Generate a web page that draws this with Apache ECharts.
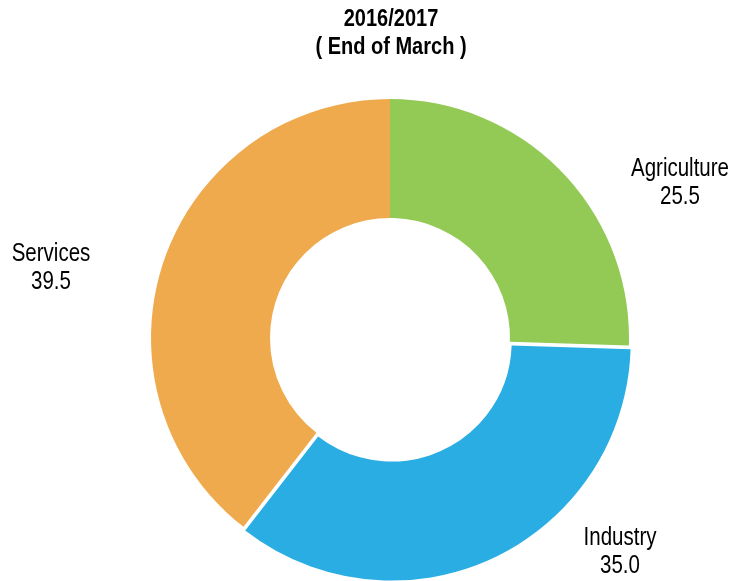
<!DOCTYPE html>
<html>
<head>
<meta charset="utf-8">
<script src="https://cdn.jsdelivr.net/npm/echarts@6/dist/echarts.min.js"></script>
<style>
  html, body { margin: 0; padding: 0; background: #fff; }
  #chart { width: 734px; height: 581px; }
</style>
</head>
<body>
<div id="chart"></div>
<script>
  const sectors = ['Agriculture', 'Industry', 'Services']
  const shares = [25.5, 35.0, 39.5]
  const colors = ['#93c955', '#2aade3', '#f0aa4e']
  const titleLines = ['2016/2017', '( End of March )']

  const font = '"Liberation Sans", Arial, sans-serif'
  // the original uses a narrow face; squeeze a regular one instead
  const narrow = 0.82

  // centre of each label block
  const labelSpots = [
    [680, 183],
    [620, 552],
    [51, 268]
  ]

  const labelGraphics = sectors.map((name, i) => ({
    type: 'text',
    x: labelSpots[i][0],
    y: labelSpots[i][1],
    scaleX: narrow,
    silent: true,
    style: {
      text: name + '\n' + shares[i].toFixed(1),
      align: 'center',
      verticalAlign: 'middle',
      fontFamily: font,
      fontSize: 25,
      lineHeight: 28,
      fill: '#000'
    }
  }))

  const chart = echarts.init(document.getElementById('chart'))

  chart.setOption({
    animation: false,
    graphic: [
      {
        type: 'text',
        x: 391,
        y: 34,
        scaleX: 0.87,
        silent: true,
        style: {
          text: titleLines.join('\n'),
          align: 'center',
          verticalAlign: 'middle',
          fontFamily: font,
          fontWeight: 'bold',
          fontSize: 23,
          lineHeight: 28,
          fill: '#000'
        }
      },
      ...labelGraphics
    ],
    series: [
      {
        type: 'pie',
        center: [390, 338],
        radius: [120, 239],
        startAngle: 90,
        clockwise: true,
        selectedMode: 'single',
        selectedOffset: 4,
        label: { show: false },
        labelLine: { show: false },
        emphasis: { disabled: true },
        data: sectors.map((name, i) => ({
          name,
          value: shares[i],
          selected: name === 'Industry',
          itemStyle: { color: colors[i] }
        }))
      }
    ]
  })
</script>
</body>
</html>
